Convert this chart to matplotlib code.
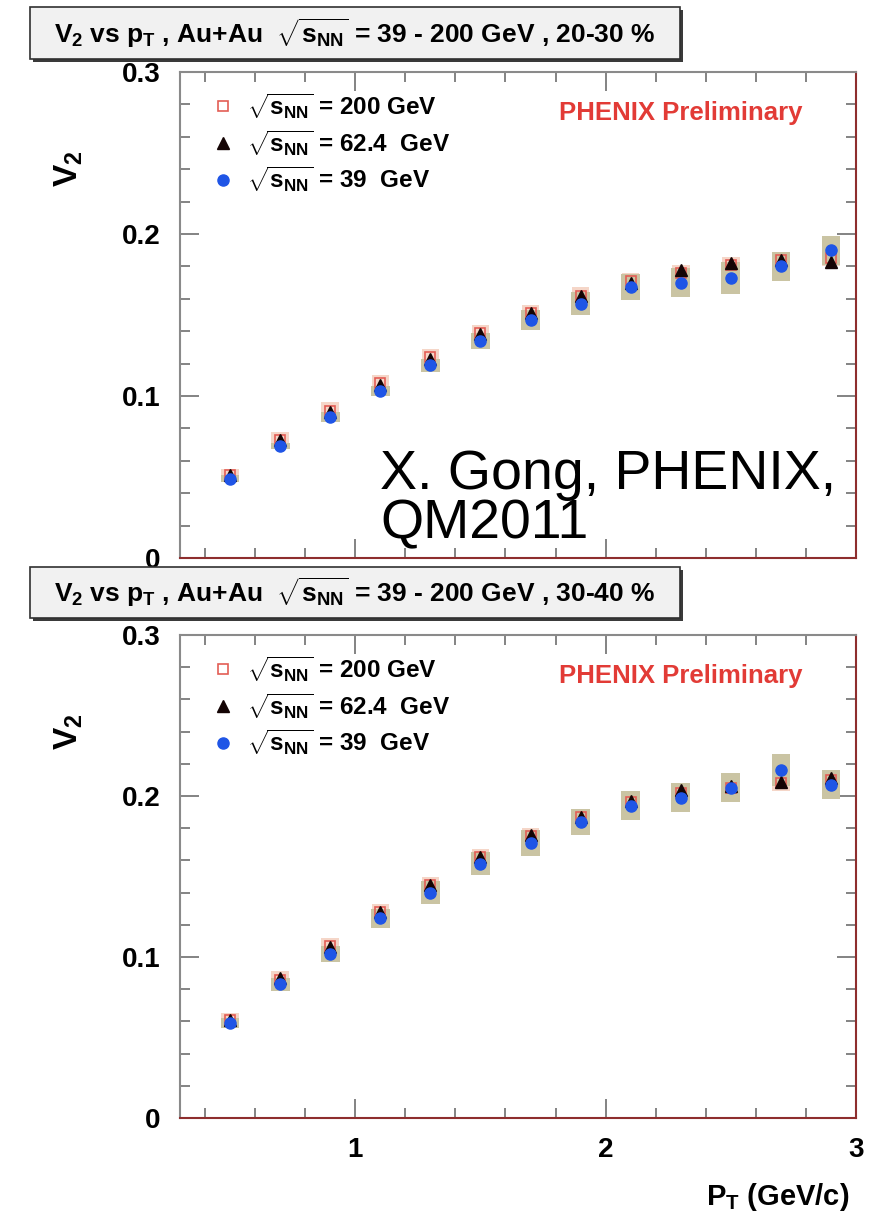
import matplotlib
matplotlib.use("Agg")
import matplotlib.pyplot as plt
from matplotlib.patches import Rectangle
from matplotlib.ticker import MultipleLocator

# v2(pT) for Au+Au at three beam energies, two centrality bins
pt = [0.5, 0.7, 0.9, 1.1, 1.3, 1.5, 1.7, 1.9, 2.1, 2.3, 2.5, 2.7, 2.9]

# 20-30 %
v2_200_a = [0.051, 0.073, 0.091, 0.108, 0.124, 0.139, 0.151, 0.162, 0.171, 0.176, 0.181, 0.184, 0.185]
v2_624_a = [0.051, 0.073, 0.090, 0.107, 0.123, 0.138, 0.151, 0.162, 0.170, 0.178, 0.182, 0.184, 0.183]
v2_39_a = [0.049, 0.069, 0.087, 0.103, 0.119, 0.134, 0.147, 0.157, 0.167, 0.170, 0.173, 0.180, 0.190]
sys_200_a = [0.004, 0.005, 0.005, 0.005, 0.005, 0.005, 0.005, 0.005, 0.005, 0.005, 0.005, 0.005, 0.005]
sys_39_a = [0.002, 0.002, 0.003, 0.003, 0.004, 0.005, 0.006, 0.007, 0.008, 0.009, 0.010, 0.009, 0.009]

# 30-40 %
v2_200_b = [0.061, 0.086, 0.107, 0.128, 0.145, 0.162, 0.175, 0.187, 0.196, 0.202, 0.205, 0.208, 0.210]
v2_624_b = [0.061, 0.087, 0.106, 0.128, 0.145, 0.162, 0.176, 0.187, 0.197, 0.204, 0.206, 0.209, 0.211]
v2_39_b = [0.059, 0.083, 0.102, 0.124, 0.140, 0.158, 0.171, 0.184, 0.194, 0.199, 0.205, 0.216, 0.207]
sys_200_b = [0.004, 0.005, 0.005, 0.005, 0.005, 0.005, 0.005, 0.005, 0.005, 0.005, 0.005, 0.005, 0.005]
sys_39_b = [0.003, 0.004, 0.005, 0.006, 0.007, 0.007, 0.008, 0.008, 0.009, 0.009, 0.009, 0.010, 0.009]

labels = [r"$\sqrt{s_{NN}}$ = 200 GeV", r"$\sqrt{s_{NN}}$ = 62.4  GeV", r"$\sqrt{s_{NN}}$ = 39  GeV"]
titles = [r"$V_2$ vs $p_T$ , Au+Au  $\sqrt{s_{NN}}$ = 39 - 200 GeV , 20-30 %",
          r"$V_2$ vs $p_T$ , Au+Au  $\sqrt{s_{NN}}$ = 39 - 200 GeV , 30-40 %"]
y_ticks = [0, 0.1, 0.2, 0.3]
y_tick_labels = ["0", "0.1", "0.2", "0.3"]
x_ticks = [1, 2, 3]
x_tick_labels = ["1", "2", "3"]

plt.rcParams["font.family"] = ["Liberation Sans", "DejaVu Sans"]
plt.rcParams["font.weight"] = "bold"
plt.rcParams["axes.labelweight"] = "bold"
plt.rcParams["mathtext.fontset"] = "custom"
plt.rcParams["mathtext.rm"] = "Liberation Sans:bold"
plt.rcParams["mathtext.it"] = "Liberation Sans:bold"
plt.rcParams["mathtext.bf"] = "Liberation Sans:bold"

W, H = 872, 1217
fig = plt.figure(figsize=(W / 100, H / 100), dpi=100)


def rect(left, top, right, bottom):
    # pixel box -> figure fraction [x0, y0, w, h]
    return [left / W, 1 - bottom / H, (right - left) / W, (bottom - top) / H]


def title_box(text, left, top, right, bottom):
    x0, y0, w, h = rect(left, top, right, bottom)
    shadow = Rectangle((x0 + 3 / W, y0 - 3 / H), w, h, transform=fig.transFigure,
                       facecolor="#3a3a3a", edgecolor="none", zorder=5)
    box = Rectangle((x0, y0), w, h, transform=fig.transFigure,
                    facecolor="#f1f1f1", edgecolor="#303030", lw=1.2, zorder=6)
    fig.add_artist(shadow)
    fig.add_artist(box)
    fig.text(x0 + w / 2, y0 + h / 2, text, ha="center", va="center",
             fontsize=19, zorder=7)


def draw_panel(ax, v200, v624, v39, s200, s39, bottom_labels):
    # systematic boxes
    ax.bar(pt, [2 * s for s in s200], bottom=[v - s for v, s in zip(v200, s200)],
           width=0.07, color="#f5d6c8", zorder=1)
    ax.bar(pt, [2 * s for s in s39], bottom=[v - s for v, s in zip(v39, s39)],
           width=0.075, color="#cac4a3", zorder=2)
    sq, = ax.plot(pt, v200, "s", mfc="none", mec="#e35d55", mew=1.2, ms=7, zorder=3)
    tri, = ax.plot(pt, v624, "^", color="#140404", ms=8, zorder=4)
    dot, = ax.plot(pt, v39, "o", color="#1f55e6", ms=8, zorder=5)

    ax.set_xlim(0.3, 3.0)
    ax.set_ylim(0, 0.3)
    ax.set_xticks(x_ticks, x_tick_labels if bottom_labels else [])
    ax.set_yticks(y_ticks, y_tick_labels)
    ax.xaxis.set_minor_locator(MultipleLocator(0.2))
    ax.yaxis.set_minor_locator(MultipleLocator(0.02))
    ax.tick_params(which="both", direction="in", top=True, right=True,
                   color="#7a7a7a", width=1.3, labelsize=20, pad=14)
    ax.tick_params(which="major", length=14)
    ax.tick_params(which="minor", length=7)
    for side in ["left", "top"]:
        ax.spines[side].set_color("#8a8a8a")
    for side in ["bottom", "right"]:
        ax.spines[side].set_color("#8e2e2e")
    for side in ax.spines:
        ax.spines[side].set_linewidth(1.5)

    ax.legend([sq, tri, dot], labels, loc="upper left", bbox_to_anchor=(0.035, 0.98),
              frameon=False, fontsize=17.5, handlelength=0.8, handletextpad=0.6,
              labelspacing=0.3, borderaxespad=0, numpoints=1)
    ax.text(0.741, 0.916, "PHENIX Preliminary", transform=ax.transAxes,
            ha="center", va="center", color="#e23b36", fontsize=18.5)

    ax.set_ylabel(r"$V_2$", fontsize=24)
    ax.yaxis.set_label_coords(-0.14, 0.80)


ax_top = fig.add_axes(rect(180, 72, 856, 558))
ax_bot = fig.add_axes(rect(180, 635, 856, 1118))

draw_panel(ax_top, v2_200_a, v2_624_a, v2_39_a, sys_200_a, sys_39_a, False)
draw_panel(ax_bot, v2_200_b, v2_624_b, v2_39_b, sys_200_b, sys_39_b, True)

ax_bot.set_xlabel(r"$P_T$ (GeV/c)", fontsize=21, ha="right")
ax_bot.xaxis.set_label_coords(0.99, -0.13)

title_box(titles[0], 30, 7, 680, 59)
title_box(titles[1], 30, 567, 680, 618)

fig.text(380 / W, 1 - 489 / H, "X. Gong, PHENIX,", fontsize=40, fontweight="normal",
         ha="left", va="baseline")
fig.text(380 / W, 1 - 538 / H, "QM2011", fontsize=40, fontweight="normal",
         ha="left", va="baseline")

fig.savefig("out.png", dpi=100)
